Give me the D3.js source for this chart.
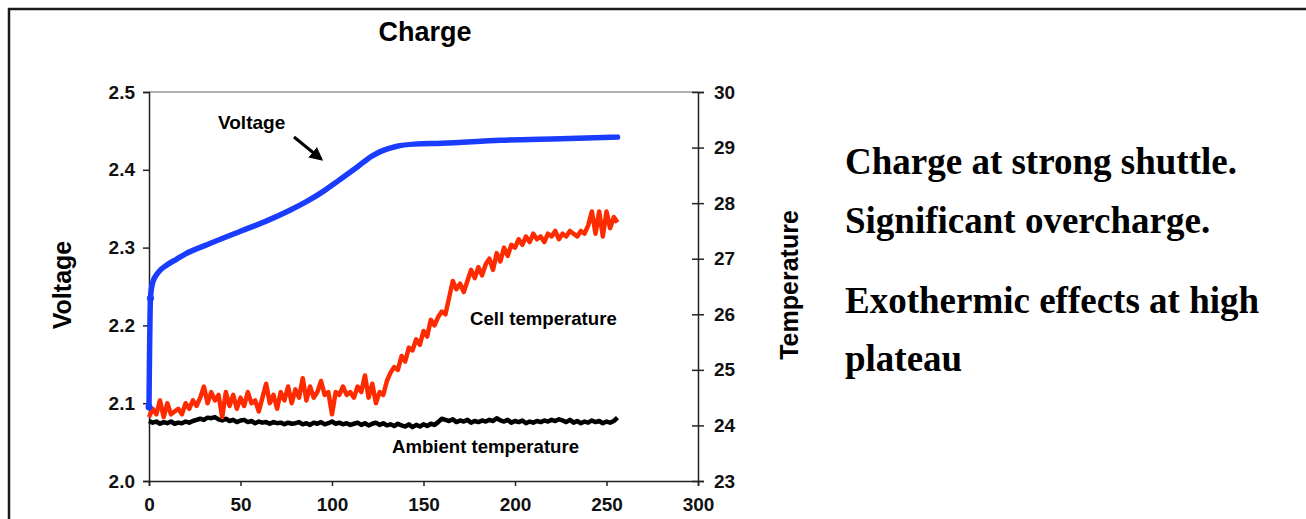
<!DOCTYPE html>
<html>
<head>
<meta charset="utf-8">
<script src="https://cdn.jsdelivr.net/npm/d3@7"></script>
<style>
  body { margin: 0; background: #fff; }
  svg text { font-family: "Liberation Sans", Arial, sans-serif; font-weight: bold; }
  .note { font-family: "Liberation Serif", "Times New Roman", serif; font-weight: bold; font-size: 37px; }
</style>
</head>
<body>
<div id="chart"></div>
<script>
// ---- data ----
const voltTime = [0, 0.8, 2, 5, 10, 15, 20, 32, 50, 64, 77, 86, 95, 104, 114, 122, 128, 135, 145, 160, 192, 225, 256];
const voltage  = [2.095, 2.235, 2.255, 2.268, 2.278, 2.285, 2.292, 2.304, 2.321, 2.334, 2.348, 2.359,
                  2.372, 2.387, 2.404, 2.418, 2.425, 2.430, 2.433, 2.434, 2.438, 2.440, 2.442];

// temperatures sampled every 2 time units, 0..256
const sampleStep = 2;
const cellTemp = [
  24.15, 24.3, 24.2, 24.45, 24.15, 24.4, 24.2, 24.25, 24.3, 24.2,
  24.4, 24.3, 24.45, 24.35, 24.5, 24.7, 24.4, 24.6, 24.45, 24.55,
  24.15, 24.6, 24.35, 24.55, 24.3, 24.5, 24.35, 24.6, 24.4, 24.45,
  24.25, 24.5, 24.75, 24.4, 24.55, 24.3, 24.6, 24.45, 24.7, 24.4,
  24.65, 24.5, 24.85, 24.45, 24.7, 24.5, 24.6, 24.8, 24.55, 24.6,
  24.2, 24.6, 24.55, 24.7, 24.55, 24.6, 24.5, 24.7, 24.6, 24.9,
  24.5, 24.75, 24.4, 24.6, 24.55, 24.8, 24.95, 25.05, 25.0, 25.25,
  25.15, 25.4, 25.35, 25.55, 25.45, 25.7, 25.6, 25.9, 25.8, 25.95,
  26.05, 26.0, 26.3, 26.6, 26.45, 26.55, 26.4, 26.6, 26.8, 26.65,
  26.85, 26.7, 26.9, 27.0, 26.8, 27.1, 26.95, 27.2, 27.05, 27.25,
  27.2, 27.35, 27.25, 27.4, 27.3, 27.45, 27.35, 27.4, 27.3, 27.45,
  27.4, 27.5, 27.35, 27.45, 27.4, 27.5, 27.45, 27.4, 27.5, 27.45,
  27.6, 27.85, 27.45, 27.85, 27.4, 27.85, 27.55, 27.75, 27.65
];
const ambientTemp = [
  24.08, 24.05, 24.07, 24.03, 24.06, 24.04, 24.07, 24.03, 24.05, 24.04,
  24.07, 24.05, 24.08, 24.1, 24.12, 24.1, 24.14, 24.13, 24.15, 24.11,
  24.09, 24.12, 24.08, 24.1, 24.06, 24.09, 24.1, 24.06, 24.08, 24.04,
  24.07, 24.05, 24.06, 24.03, 24.06, 24.04, 24.05, 24.02, 24.05, 24.03,
  24.04, 24.06, 24.02, 24.04, 24.01, 24.05, 24.03, 24.06, 24.02, 24.04,
  24.07, 24.03, 24.05, 24.02, 24.04, 24.01, 24.03, 24.05, 24.01, 24.04,
  24.0, 24.03, 24.05, 24.01, 24.04, 24.0, 24.02, 23.99, 24.03, 24.0,
  23.98, 24.02, 23.97, 24.01, 23.98, 24.02, 23.99, 24.03, 24.01, 24.06,
  24.12, 24.1, 24.08, 24.11, 24.06, 24.09, 24.07, 24.1, 24.05, 24.08,
  24.06, 24.09, 24.07, 24.1, 24.08, 24.13, 24.09, 24.07, 24.1, 24.05,
  24.08, 24.06, 24.09, 24.04, 24.07, 24.05, 24.08, 24.06, 24.09, 24.07,
  24.1, 24.08, 24.11, 24.09, 24.06, 24.1, 24.05, 24.08, 24.04, 24.07,
  24.05, 24.09, 24.06, 24.08, 24.04, 24.07, 24.05, 24.08, 24.14
];

const xTicks = [0, 50, 100, 150, 200, 250, 300];
const voltTicks = [2.0, 2.1, 2.2, 2.3, 2.4, 2.5];
const tempTicks = [23, 24, 25, 26, 27, 28, 29, 30];

const notes = ['Charge at strong shuttle.', 'Significant overcharge.', 'Exothermic effects at high', 'plateau'];

// ---- layout ----
const W = 1306, H = 519;
const plotL = 149, plotR = 698, plotT = 92, plotB = 481;

const svg = d3.select('#chart').append('svg')
    .attr('width', W)
    .attr('height', H);

// outer frame (runs off the right and bottom edges)
svg.append('rect')
    .attr('x', 9).attr('y', 9)
    .attr('width', 1400).attr('height', 600)
    .attr('fill', 'none')
    .attr('stroke', '#1a1a1a')
    .attr('stroke-width', 2.5);

const x = d3.scaleLinear().domain([0, 300]).range([plotL, plotR]);
const yV = d3.scaleLinear().domain([2.0, 2.5]).range([plotB, plotT]);
const yT = d3.scaleLinear().domain([23, 30]).range([plotB, plotT]);

// plot area top border
svg.append('line')
    .attr('x1', plotL).attr('x2', plotR)
    .attr('y1', plotT).attr('y2', plotT)
    .attr('stroke', '#999').attr('stroke-width', 1.5);

// axes
const xAxis = svg.append('g')
    .attr('transform', `translate(0,${plotB})`)
    .call(d3.axisBottom(x).tickValues(xTicks).tickSize(5).tickPadding(12).tickFormat(d3.format('d')));

const vAxis = svg.append('g')
    .attr('transform', `translate(${plotL},0)`)
    .call(d3.axisLeft(yV).tickValues(voltTicks).tickSize(6).tickPadding(8).tickFormat(d3.format('.1f')));

const tAxis = svg.append('g')
    .attr('transform', `translate(${plotR},0)`)
    .call(d3.axisRight(yT).tickValues(tempTicks).tickSize(6).tickPadding(10).tickFormat(d3.format('d')));
// right ticks cross the axis line
tAxis.selectAll('.tick line').attr('x1', -6);

[xAxis, vAxis, tAxis].forEach(g => {
  g.select('.domain').attr('stroke', '#222').attr('stroke-width', 1.5);
  g.selectAll('.tick line').attr('stroke', '#222').attr('stroke-width', 1.5);
  g.selectAll('.tick text').attr('fill', '#111').style('font-size', '19px');
});
xAxis.selectAll('.tick text').attr('dy', '0.68em');

// title and axis titles
svg.append('text')
    .attr('x', 425).attr('y', 41)
    .attr('text-anchor', 'middle')
    .style('font-size', '27px')
    .text('Charge');

svg.append('text')
    .attr('transform', 'translate(71,285) rotate(-90)')
    .attr('text-anchor', 'middle')
    .style('font-size', '25px')
    .text('Voltage');

svg.append('text')
    .attr('transform', 'translate(798,285) rotate(-90)')
    .attr('text-anchor', 'middle')
    .style('font-size', '25px')
    .text('Temperature');

// series
const tempPoints = arr => arr.map((t, i) => [i * sampleStep, t]);

svg.append('path')
    .datum(tempPoints(ambientTemp))
    .attr('fill', 'none')
    .attr('stroke', '#000')
    .attr('stroke-width', 4.5)
    .attr('stroke-linejoin', 'round')
    .attr('d', d3.line().x(d => x(d[0])).y(d => yT(d[1])));

svg.append('path')
    .datum(tempPoints(cellTemp))
    .attr('fill', 'none')
    .attr('stroke', '#ff2b00')
    .attr('stroke-width', 4.5)
    .attr('stroke-linejoin', 'round')
    .attr('d', d3.line().x(d => x(d[0])).y(d => yT(d[1])));

const voltPoints = voltTime.map((t, i) => [t, voltage[i]]);
svg.append('path')
    .datum(voltPoints)
    .attr('fill', 'none')
    .attr('stroke', '#1a3cff')
    .attr('stroke-width', 5.5)
    .attr('stroke-linejoin', 'round')
    .attr('stroke-linecap', 'round')
    .attr('d', d3.line().x(d => x(d[0])).y(d => yV(d[1])).curve(d3.curveMonotoneX));

svg.selectAll('.vdot')
    .data(voltPoints.slice(0, 2))
    .enter().append('circle')
    .attr('cx', d => x(d[0]))
    .attr('cy', d => yV(d[1]))
    .attr('r', 3.5)
    .attr('fill', '#1a3cff');

// in-chart labels
svg.append('text').attr('x', 218).attr('y', 129).style('font-size', '19px').text('Voltage');
svg.append('text').attr('x', 470).attr('y', 325).style('font-size', '18.6px').text('Cell temperature');
svg.append('text').attr('x', 392).attr('y', 453).style('font-size', '18.6px').text('Ambient temperature');

// arrow
svg.append('defs').append('marker')
    .attr('id', 'head')
    .attr('viewBox', '0 0 10 10')
    .attr('refX', 8).attr('refY', 5)
    .attr('markerWidth', 4.5).attr('markerHeight', 4.5)
    .attr('orient', 'auto')
    .append('path')
    .attr('d', 'M0,0 L10,5 L0,10 z')
    .attr('fill', '#000');

svg.append('line')
    .attr('x1', 294).attr('y1', 137)
    .attr('x2', 321).attr('y2', 159)
    .attr('stroke', '#000')
    .attr('stroke-width', 3)
    .attr('marker-end', 'url(#head)');

// notes on the right
const noteY = [174, 233, 313, 371];
svg.selectAll('.note')
    .data(notes)
    .enter().append('text')
    .attr('class', 'note')
    .attr('x', 845)
    .attr('y', (d, i) => noteY[i])
    .text(d => d);
</script>
</body>
</html>
